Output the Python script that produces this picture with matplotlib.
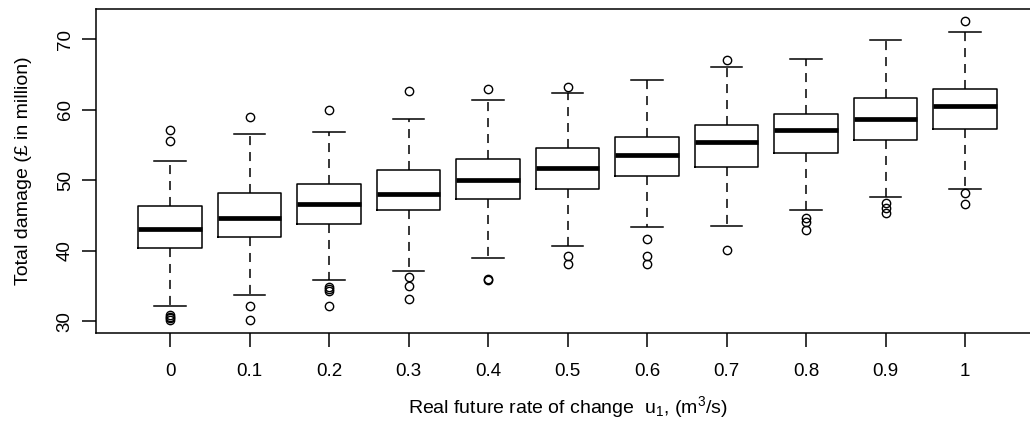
import matplotlib
matplotlib.use('Agg')
import matplotlib.pyplot as plt

plt.rcParams['font.family'] = ['Liberation Sans', 'DejaVu Sans']
plt.rcParams['mathtext.default'] = 'regular'
plt.rcParams['lines.scale_dashes'] = False

# rate of change levels
rates = ['0', '0.1', '0.2', '0.3', '0.4', '0.5', '0.6', '0.7', '0.8', '0.9', '1']

# box statistics (damage in million GBP)
medians = [43.1, 44.7, 46.6, 48.1, 50.0, 51.7, 53.6, 55.4, 57.1, 58.7, 60.6]
q1 = [40.4, 42.0, 43.8, 45.7, 47.4, 48.7, 50.6, 51.9, 53.8, 55.7, 57.3]
q3 = [46.3, 48.2, 49.5, 51.4, 53.0, 54.6, 56.2, 57.8, 59.4, 61.6, 62.9]
whisk_low = [32.1, 33.7, 35.8, 37.1, 39.0, 40.6, 43.3, 43.5, 45.8, 47.6, 48.7]
whisk_high = [52.7, 56.5, 56.8, 58.7, 61.4, 62.4, 64.2, 66.1, 67.2, 69.9, 71.0]
outliers = [
    [57.1, 55.5, 30.9, 30.6, 30.4, 30.2],
    [58.9, 32.2, 30.2],
    [60.0, 34.9, 34.6, 34.3, 32.1],
    [62.7, 36.2, 35.0, 33.1],
    [62.9, 36.0, 35.8],
    [63.2, 39.3, 38.1],
    [41.7, 39.3, 38.1],
    [67.0, 40.1],
    [44.7, 44.1, 42.9],
    [46.7, 46.1, 45.4],
    [72.6, 48.2, 46.6],
]

stats = []
for i in range(len(rates)):
    stats.append({'med': medians[i], 'q1': q1[i], 'q3': q3[i],
                  'whislo': whisk_low[i], 'whishi': whisk_high[i],
                  'fliers': outliers[i], 'label': rates[i]})

fig = plt.figure(figsize=(10.3, 4.26), dpi=100)
# right border of the original is cut off by the image edge
ax = fig.add_axes([96 / 1030., 93.3 / 426., 943 / 1030., 323.7 / 426.])

lw = 1.1
ax.bxp(stats, positions=range(1, len(rates) + 1), widths=0.8, capwidths=0.4,
       boxprops=dict(color='black', linewidth=lw),
       medianprops=dict(color='black', linewidth=3.4, solid_capstyle='butt'),
       whiskerprops=dict(color='black', linewidth=lw, linestyle=(0, (6.5, 5))),
       capprops=dict(color='black', linewidth=lw),
       flierprops=dict(marker='o', markerfacecolor='none', markeredgecolor='black',
                       markersize=6, markeredgewidth=1.0))

ax.set_xlim(0.069, 11.93)
ax.set_ylim(28.35, 74.3)
ax.set_yticks([30, 40, 50, 60, 70])
ax.set_xticks(range(1, len(rates) + 1))
ax.set_xticklabels(rates)

for side in ['left', 'right', 'top', 'bottom']:
    ax.spines[side].set_linewidth(1.1)

ax.tick_params(axis='both', direction='out', length=10, width=1.1, labelsize=13.5)
ax.tick_params(axis='x', pad=12)
ax.tick_params(axis='y', pad=6)
for lab in ax.get_yticklabels():
    lab.set_rotation(90)
    lab.set_va('center')

ax.set_ylabel(u'Total damage (\u00a3 in million)', fontsize=14, labelpad=18)
ax.set_xlabel(r'Real future rate of change  u$_1$, (m$^3$/s)', fontsize=14, labelpad=10)

plt.savefig('out.png', dpi=100)
